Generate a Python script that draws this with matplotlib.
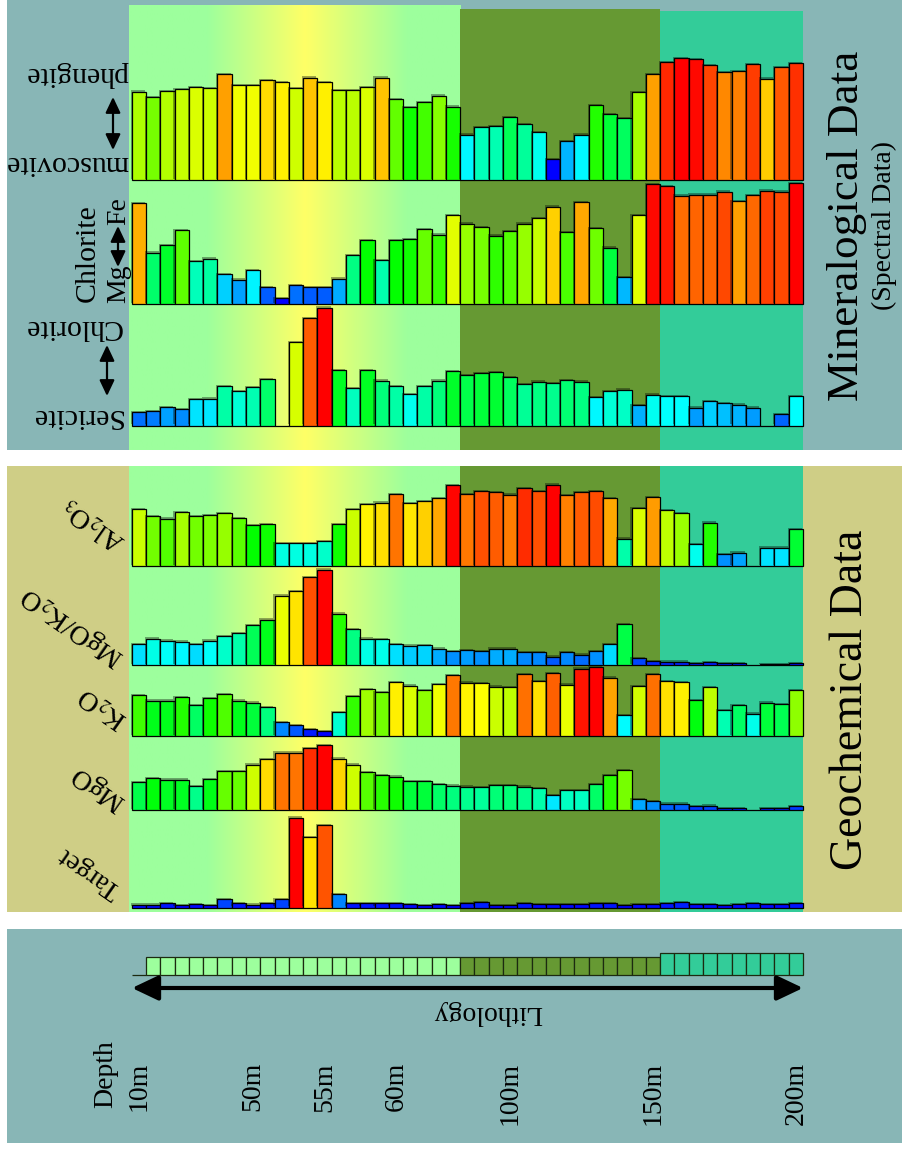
import numpy as np
import matplotlib
matplotlib.use("Agg")
import matplotlib.pyplot as plt
from matplotlib.colors import LinearSegmentedColormap, Normalize, to_rgb
from matplotlib.patches import Rectangle, FancyArrowPatch
from matplotlib.transforms import blended_transform_factory
import matplotlib.patheffects as pe

plt.rcParams['font.family'] = ['Liberation Serif', 'DejaVu Serif']
plt.rcParams['mathtext.fontset'] = 'stix'

# ---------------------------------------------------------------
# Drill-hole samples, shallow (left) to deep (right): 47 intervals
# ---------------------------------------------------------------
muscovite_phengite = [88.3, 83, 88.7, 90.7, 92.7, 91.7, 105.7, 95, 95, 99.7, 98, 91.7,
                      102.3, 97.7, 89.7, 89.7, 92.7, 102.3, 81, 72.7, 77.7, 84.3, 73.3,
                      45.3, 52.7, 53.7, 62.7, 56, 47.7, 20.7, 38.7, 45.3, 74.7, 66, 62,
                      87.7, 105.7, 117.7, 121.7, 120.7, 114.7, 108, 109, 115.7, 101.3,
                      113, 116.7]
chlorite_mg_fe = [101, 51.6, 59, 74, 43, 45.6, 30, 24.6, 34, 17, 6.3, 19, 17, 17, 25.6,
                  49, 64, 44, 64, 65.3, 75, 69.6, 89,
                  80.6, 77, 68.6, 73, 80.6, 86, 97.6, 72, 102, 76, 56.6, 27, 89, 120,
                  118, 108.6, 109.6, 109.6, 112.6, 103, 109.3, 113.6, 112.6, 121]
sericite_chlorite = [13.3, 14.7, 18.7, 16.3, 26.3, 27, 39.7, 34.3, 38.3, 46.7, 0, 83.7,
                     107.3, 118, 55.3, 37.3, 55.3, 45, 39.7, 31.7, 39.7, 45, 54.3,
                     50.3, 52.3, 53.3, 48.3, 41.7, 44, 42.7, 45.7, 44, 28.7, 34.3, 36,
                     20.3, 31, 29.7, 29.7, 18, 24.3, 22.3, 21, 18, 0, 11.7, 29.7]
al2o3 = [56.7, 49.7, 47.3, 53.7, 49.7, 50.7, 52.7, 47.7, 40.7, 41.7, 22.7, 22.7, 22.7,
         24.7, 41.7, 56.7, 61.7, 63.3, 72, 62.7, 64.7, 67.7, 80.7,
         71.7, 74.7, 73.7, 71.3, 77.7, 74.7, 81.3, 71, 73.7, 75, 67.7, 27.3, 58, 68.7,
         55.7, 53, 21.7, 43.3, 11.7, 13.3, 0, 18.3, 18.3, 36.7]
mgo_k2o = [21, 26.3, 24.3, 23.3, 20.7, 24.3, 29, 31.7, 39.7, 45.3, 69.3, 74, 87.7, 95.3,
           51.3, 35.7, 26.3, 25.7, 21, 19.3, 20, 16.3, 13.7,
           14.7, 13.7, 16.3, 16.3, 13, 13, 8.3, 13, 10.3, 13.7, 20.7, 41, 6.7, 3.7,
           3.3, 3.3, 2, 2.7, 2, 1.7, 0, 0.7, 0.7, 1.7]
k2o = [40.7, 35.3, 35.3, 39, 30.7, 37.7, 41.7, 35.3, 33.3, 29, 13.7, 10.7, 6.7, 5, 23.7,
       40, 46.7, 44, 53.7, 50.3, 45.7, 52, 61,
       53.5, 52.7, 49.3, 48.7, 61.7, 54.7, 62.7, 51.3, 67.3, 68.7, 58.3, 20.7, 50, 61.7,
       54.7, 53.7, 36, 48.7, 25.7, 30.7, 22.3, 33.3, 31.7, 45.7]
mgo = [27.7, 31.7, 30.3, 30.3, 23.7, 31, 38.7, 38.7, 45.3, 50.7, 57.3, 57.3, 61.7, 64.7,
       51.3, 45.3, 37.7, 34.7, 33.3, 28.7, 28.7, 26, 24.3,
       23.3, 22.7, 25, 25, 23.3, 21.7, 14.7, 20, 20, 26, 35, 39.7, 10.7, 9,
       6.3, 6.3, 3.7, 4.3, 1.7, 1.7, 0, 1.7, 1.7, 3.7]
target = [3, 3, 4.3, 2.3, 3.3, 2.3, 8.3, 4.3, 3, 4.3, 8.3, 90, 70.3, 82.7, 13.7, 4.3,
          4.3, 4.3, 4.3, 3.3, 2.3, 3.3, 2.3,
          4.3, 5.3, 2.3, 2.3, 4.3, 3.3, 3.3, 3.3, 3.3, 4.3, 4.3, 2.3, 3.3, 3.3,
          4.3, 5.3, 3.3, 3.3, 2.3, 3.3, 4.3, 3.3, 3.3, 4.3]

# lithological unit of each interval and the height of its log cell
lithology_unit = [1] * 23 + [2] * 14 + [3] * 10
lithology_cell = [0] + [18.3] * 22 + [18.3] * 14 + [21.7] * 10

depth_labels = ["10m", "50m", "55m", "60m", "100m", "150m", "200m"]
depth_sample = [0, 8, 13, 18, 26, 36, 46]

# ---------------------------------------------------------------
W, H = 902, 1153
fig = plt.figure(figsize=(W / 100, H / 100), dpi=100)
fig.patch.set_facecolor('white')


def rect(x0, y0, x1, y1):
    """Figure rectangle from pixel box (y measured from the top)."""
    return [x0 / W, 1 - y1 / H, (x1 - x0) / W, (y1 - y0) / H]


GREY = '#88b6b6'
KHAKI = '#cfce86'
UNIT_COLORS = {1: '#9dff9d', 2: '#669933', 3: '#33cc99'}
HIGHLIGHT = '#ffff66'
X0, X1 = 129, 803
n = len(lithology_unit)
idx = np.arange(n)
XLO = -0.19

spectrum = LinearSegmentedColormap.from_list(
    'spectrum', ['#0000ff', '#00ffff', '#00ff00', '#ffff00', '#ff0000'])

# panel backgrounds (drawn on a full-figure axes at the very back)
ax_panel = fig.add_axes([0, 0, 1, 1], zorder=-5)
ax_panel.set_xlim(0, W)
ax_panel.set_ylim(H, 0)
ax_panel.axis('off')
for (x0, y0, x1, y1, c) in [(7, 0, 902, 450, GREY), (7, 466, 902, 912, KHAKI),
                            (7, 929, 902, 1143, GREY)]:
    ax_panel.add_patch(Rectangle((x0, y0), x1 - x0, y1 - y0, facecolor=c,
                                 edgecolor='none'))

# lithology-coloured backdrop behind the data strips
ax_bg = fig.add_axes(rect(X0, 0, X1, H), zorder=-4)
units = np.asarray(lithology_unit)


def unit_span(u):
    w = idx[units == u]
    return (XLO if w.min() == 0 else w.min()), w.max() + 1


g0, g1 = np.array(to_rgb(UNIT_COLORS[1])), np.array(to_rgb(HIGHLIGHT))
for bottom, tops in [(450, {1: 5, 2: 9, 3: 11}), (912, {1: 466, 2: 466, 3: 466})]:
    for u in (1, 2, 3):
        a, b = unit_span(u)
        if u == 1:
            xs = np.linspace(a, b, 600)
            wgt = np.interp(xs, [5.27, 12.13, 19.28], [0, 1, 0])
            img = (g0[None, :] * (1 - wgt[:, None]) + g1[None, :] * wgt[:, None])[None]
            ax_bg.imshow(img, extent=(a, b, bottom, tops[u]), aspect='auto',
                         interpolation='bilinear')
        else:
            ax_bg.add_patch(Rectangle((a, tops[u]), b - a, bottom - tops[u],
                                      facecolor=UNIT_COLORS[u], edgecolor='none'))
ax_bg.set_xlim(XLO, n)
ax_bg.set_ylim(H, 0)
ax_bg.axis('off')

# data strips: (values, baseline pixel)
rows = [
    (muscovite_phengite, 180.0),
    (chlorite_mg_fe, 304.3),
    (sericite_chlorite, 425.7),
    (al2o3, 566.0),
    (mgo_k2o, 665.0),
    (k2o, 736.0),
    (mgo, 810.0),
    (target, 907.7),
]
SPAN = 130
shadow = [pe.SimplePatchShadow(offset=(-0.8, 0.9), shadow_rgbFace='black', alpha=0.35),
          pe.Normal()]
for values, base in rows:
    ax = fig.add_axes(rect(X0, base - SPAN, X1, base))
    ax.set_xlim(XLO, n)
    ax.set_ylim(0, SPAN)
    ax.axis('off')
    v = np.asarray(values, dtype=float)
    norm = Normalize(v.min(), v.max())
    bars = ax.bar(idx, v, width=1.0, align='edge', color=spectrum(norm(v)),
                  edgecolor='black', linewidth=0.9, clip_on=False)
    for p in bars:
        p.set_path_effects(shadow)

# lithology log
ax_l = fig.add_axes(rect(X0, 975 - SPAN, X1, 975))
ax_l.set_xlim(XLO, n)
ax_l.set_ylim(0, SPAN)
ax_l.axis('off')
ax_l.bar(idx, lithology_cell, width=1.0, align='edge',
         color=[UNIT_COLORS[u] for u in lithology_unit],
         edgecolor='#1c2a10', linewidth=0.9, clip_on=False)

# annotation layer in pixel coordinates
ax_t = fig.add_axes([0, 0, 1, 1], zorder=5)
ax_t.set_xlim(0, W)
ax_t.set_ylim(H, 0)
ax_t.axis('off')

FS = 20
FSM = 21.5


def varrow(x, y0, y1, lw=1.6, hl=0.95, hw=0.45, ms=10):
    ax_t.add_patch(FancyArrowPatch((x, y0), (x, y1),
                                   arrowstyle=f'<|-|>,head_length={hl},head_width={hw}',
                                   mutation_scale=ms, lw=lw, color='black',
                                   shrinkA=0, shrinkB=0))


# mineralogical labels
ax_t.text(128, 74, 'phengite', rotation=180, ha='right', va='center', fontsize=FSM)
varrow(113, 97, 150)
ax_t.text(128, 163, 'muscovite', rotation=180, ha='right', va='center', fontsize=FSM)

ax_t.text(88, 302, 'Chlorite', rotation=90, ha='center', va='bottom', fontsize=FSM)
ax_t.text(119, 303, 'Mg', rotation=90, ha='center', va='bottom', fontsize=FS)
ax_t.text(119, 225, 'Fe', rotation=90, ha='center', va='bottom', fontsize=FS)
varrow(118, 226, 267)

ax_t.text(122, 327, 'Chlorite', rotation=180, ha='right', va='center', fontsize=FSM)
varrow(107, 345, 396)
ax_t.text(122, 416, 'Sericite', rotation=180, ha='right', va='center', fontsize=FSM)

ax_t.text(847, 226, 'Mineralogical Data', rotation=90, ha='center', va='center',
          fontsize=32.5)
ax_t.text(884, 226, '(Spectral Data)', rotation=90, ha='center', va='center',
          fontsize=20)

# geochemical labels
ROT = 145
for (x, y, s) in [(123, 545, r'Al$_2$O$_3$'), (122, 659, r'MgO/K$_2$O'),
                  (125, 722, r'K$_2$O'), (122, 804, 'MgO'), (118, 892, 'Target')]:
    ax_t.text(x, y, s, rotation=ROT, rotation_mode='anchor', ha='left', va='center',
              fontsize=FS)

ax_t.text(851, 700, 'Geochemical Data', rotation=90, ha='center', va='center',
          fontsize=33)

# lithology arrow and depth axis
ax_t.add_patch(FancyArrowPatch((132, 988), (803, 988),
                               arrowstyle='<|-|>,head_length=0.8,head_width=0.38',
                               mutation_scale=20, lw=3, color='black',
                               shrinkA=0, shrinkB=0))
ax_t.text(488, 1012, 'Lithology', rotation=180, ha='center', va='center', fontsize=FS)

tr = blended_transform_factory(ax_l.transData, ax_t.transData)
for lab, s in zip(depth_labels, depth_sample):
    ax_t.text(s + 0.5, 1062, lab, transform=tr, rotation=90, ha='center', va='top',
              fontsize=FS)
ax_t.text(106, 1040, 'Depth', rotation=90, ha='center', va='top', fontsize=FS)

fig.savefig('out.png', dpi=100)
